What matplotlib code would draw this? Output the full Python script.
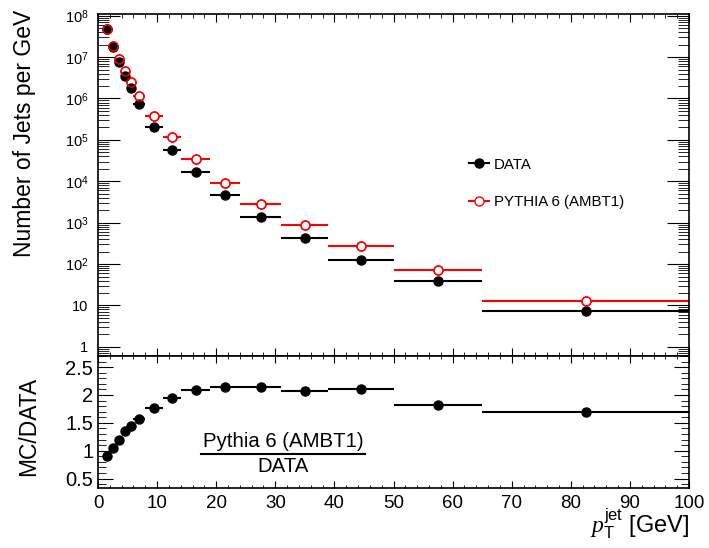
import numpy as np
import matplotlib
matplotlib.use('Agg')
import matplotlib.pyplot as plt
from matplotlib.ticker import MultipleLocator, LogLocator, FuncFormatter, NullFormatter
from matplotlib.lines import Line2D

# jet pT bins [GeV]
bin_edges = np.array([1, 2, 3, 4, 5, 6, 8, 11, 14, 19, 24, 31, 39, 50, 65, 100])
# number of jets per GeV
data_vals = [4.8e7, 1.8e7, 7.8e6, 3.5e6, 1.8e6, 7.4e5, 2.1e5, 5.8e4, 1.65e4,
             4.6e3, 1.38e3, 4.3e2, 1.25e2, 40, 7.4]
mc_vals = [4.9e7, 1.9e7, 9.1e6, 4.7e6, 2.5e6, 1.18e6, 3.7e5, 1.17e5, 3.45e4,
           9.3e3, 2.9e3, 9.0e2, 2.7e2, 72, 12.8]
ratio_vals = [0.91, 1.05, 1.20, 1.35, 1.44, 1.57, 1.76, 1.95, 2.09,
              2.14, 2.14, 2.08, 2.10, 1.82, 1.69]

centers = 0.5 * (bin_edges[1:] + bin_edges[:-1])
halfw = 0.5 * np.diff(bin_edges)

plt.rcParams['font.family'] = ['Liberation Sans', 'DejaVu Sans']
plt.rcParams['mathtext.fontset'] = 'custom'
plt.rcParams['mathtext.rm'] = 'Liberation Sans'
plt.rcParams['mathtext.it'] = 'Liberation Serif:italic'
plt.rcParams['axes.linewidth'] = 1.2

W, H = 709, 548
fig = plt.figure(figsize=(W / 100, H / 100), dpi=100)
ax1 = fig.add_axes([98 / W, 1 - 356 / H, 591 / W, 342 / H])
ax2 = fig.add_axes([98 / W, 1 - 488 / H, 591 / W, 132 / H])

ms = 6.5
# top panel
ax1.errorbar(centers, mc_vals, xerr=halfw, fmt='o', color='red', mfc='white',
             mec='red', mew=1.0, ms=ms, elinewidth=1.5, capsize=0, zorder=2)
ax1.errorbar(centers, data_vals, xerr=halfw, fmt='o', color='black', ms=ms,
             elinewidth=1.5, capsize=0, zorder=3)
ax1.plot(centers, mc_vals, 'o', mfc='none', mec='red', mew=1.0, ms=ms, zorder=4)

ax1.set_yscale('log')
ax1.set_xlim(0, 100)
ax1.set_ylim(0.6, 1.1e8)


def logfmt(v, pos):
    n = int(round(np.log10(v)))
    if n == 0:
        return '1'
    if n == 1:
        return '10'
    return r'$10^{%d}$' % n


ax1.yaxis.set_major_locator(LogLocator(base=10, numticks=20))
ax1.yaxis.set_minor_locator(LogLocator(base=10, subs=np.arange(2, 10), numticks=20))
ax1.yaxis.set_major_formatter(FuncFormatter(logfmt))
ax1.yaxis.set_minor_formatter(NullFormatter())
ax1.xaxis.set_major_locator(MultipleLocator(10))
ax1.xaxis.set_minor_locator(MultipleLocator(2))
ax1.tick_params(axis='x', which='major', direction='in', length=5.8, top=True,
                labelbottom=False)
ax1.tick_params(axis='x', which='minor', direction='in', length=2.9, top=True)
ax1.tick_params(axis='y', which='major', direction='in', length=15.8, right=True,
                labelsize=10.5, pad=7)
ax1.tick_params(axis='y', which='minor', direction='in', length=7.9, right=True)

handles = [Line2D([], [], color='black', marker='o', ms=ms, lw=1.5),
           Line2D([], [], color='red', marker='o', mfc='white', mec='red',
                  mew=1.0, ms=ms, lw=1.5)]
ax1.legend(handles, ['DATA', 'PYTHIA 6 (AMBT1)'], loc='center left',
           bbox_to_anchor=(0.628, 0.505), frameon=False, fontsize=10.8,
           handlelength=1.3, handletextpad=0.35, labelspacing=1.55,
           borderpad=0, borderaxespad=0)

# ratio panel
ax2.errorbar(centers, ratio_vals, xerr=halfw, fmt='o', color='black', ms=ms,
             elinewidth=1.5, capsize=0)
ax2.set_xlim(0, 100)
ax2.set_ylim(0.33, 2.7)
ax2.xaxis.set_major_locator(MultipleLocator(10))
ax2.xaxis.set_minor_locator(MultipleLocator(2))
ax2.yaxis.set_major_locator(MultipleLocator(0.5))
ax2.yaxis.set_minor_locator(MultipleLocator(0.1))
ax2.yaxis.set_major_formatter(FuncFormatter(lambda v, p: '%g' % v))
ax2.tick_params(axis='x', which='major', direction='in', length=4.7, top=True,
                labelsize=13.5, pad=5)
ax2.tick_params(axis='x', which='minor', direction='in', length=2.4, top=True)
ax2.tick_params(axis='y', which='major', direction='in', length=10.8, right=True,
                labelsize=14.5, pad=3.5)
ax2.tick_params(axis='y', which='minor', direction='in', length=5.5, right=True)

ax2.text(31.3, 1.17, 'Pythia 6 (AMBT1)', ha='center', va='center', fontsize=14.7)
ax2.text(31.3, 0.72, 'DATA', ha='center', va='center', fontsize=14.7)
ax2.plot([17.5, 45.2], [0.94, 0.94], color='black', lw=1.5)

fig.text(24 / W, 1 - 10 / H, 'Number of Jets per GeV', rotation=90,
         ha='center', va='top', fontsize=16.5)
fig.text(29 / W, 1 - 426 / H, 'MC/DATA', rotation=90, ha='center',
         va='center', fontsize=16.5)
fig.text(689 / W, 7 / H, r'$p_{\mathrm{T}}^{\mathrm{jet}}$ [GeV]', ha='right',
         va='bottom', fontsize=17)

fig.savefig('out.png', dpi=100)
